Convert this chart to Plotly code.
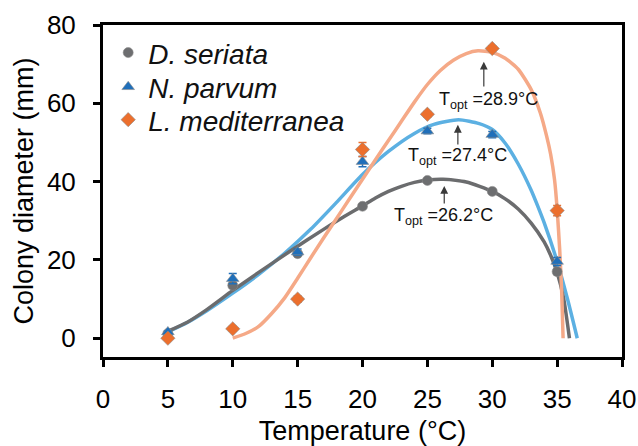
import plotly.graph_objects as go

# Measured colony diameters (mean ± error) at each incubation temperature
temps = [5, 10, 15, 20, 25, 30, 35]

ds_mean = [1.2, 13.5, 21.6, 33.7, 40.3, 37.5, 17.0]
ds_err = [0.4, 0.6, 0.5, 0.6, 0.5, 0.5, 0.7]

np_mean = [1.6, 15.2, 22.0, 45.1, 52.9, 52.0, 19.6]
np_err = [0.3, 1.3, 0.8, 1.3, 0.7, 0.8, 1.0]

lm_mean = [0.0, 2.4, 10.0, 48.2, 57.2, 74.0, 32.6]
lm_err = [0.5, 0.6, 0.8, 1.8, 0.7, 0.7, 1.3]

# Fitted growth curves (temperature, diameter)
ds_fit_t = [5, 6.5, 8, 10, 12, 14.5, 17, 18.5, 20, 21, 22, 23, 24, 25, 26.2, 28, 30, 31, 32, 33,
            34, 34.5, 35, 35.5, 35.95]
ds_fit_y = [1.8, 4.1, 7.3, 12.2, 16.8, 22.4, 27.8, 30.9, 33.8, 35.8, 37.5, 38.8, 39.8, 40.4, 40.6,
            39.9, 37.5, 35.6, 33.0, 29.4, 24.6, 21.2, 16.8, 10.2, 0.0]

np_fit_t = [5, 6.5, 8, 10, 12, 14, 16, 18, 20, 22, 24, 25.5, 27.4, 29, 30, 31, 32, 33, 33.5, 34,
            35, 35.8, 36.55]
np_fit_y = [1.6, 4.0, 7.0, 11.5, 16.3, 21.7, 27.8, 34.7, 41.8, 47.7, 52.3, 54.6, 55.8, 54.8, 53.3,
            49.8, 44.5, 37.8, 33.8, 29.5, 19.6, 10.0, 0.0]

lm_fit_t = [10, 11, 12, 13, 14, 15, 16, 17, 18, 19, 20, 21, 22, 23, 24, 25, 26, 27, 28, 28.9,
            30, 31, 32, 33, 33.7, 34.2, 34.5, 34.8, 35.0, 35.2, 35.35, 35.46]
lm_fit_y = [0.0, 1.2, 3.0, 6.3, 10.3, 15.3, 20.5, 25.6, 30.6, 35.6, 40.6, 45.6, 50.5, 55.4, 60.3,
            64.8, 68.4, 71.0, 72.7, 73.4, 73.0, 71.5, 68.7, 63.5, 57.6, 51.5, 47.0, 40.5, 33.0,
            22.5, 12.0, 0.0]

# Optimum-temperature callouts: label text, label position, arrow x, arrow tail/head y
topt_labels = ["T<sub>opt</sub> =28.9°C", "T<sub>opt</sub> =27.4°C", "T<sub>opt</sub> =26.2°C"]
topt_label_x = [29.68, 27.35, 26.26]
topt_label_y = [60.8, 46.3, 31.2]
topt_arrow_x = [29.35, 27.35, 26.3]
topt_arrow_tail = [63.9, 49.1, 34.0]
topt_arrow_head = [70.6, 54.5, 38.9]

names = ["<i>D. seriata</i>", "<i>N. parvum</i>", "<i>L. mediterranea</i>"]
marker_colors = ["#6d6e70", "#1f6fba", "#ec6f2d"]
curve_colors = ["#6b6c6e", "#5cb0e2", "#f5a987"]
symbols = ["circle", "triangle-up", "diamond"]
sizes = [10, 11, 11]
legend_ids = ["legend", "legend2", "legend3"]
legend_rows = [0.916, 0.813, 0.714]

FONT = "Liberation Sans, Arial, sans-serif"

fig = go.Figure()

fits = [(ds_fit_t, ds_fit_y), (np_fit_t, np_fit_y), (lm_fit_t, lm_fit_y)]
for idx in [1, 0, 2]:
    ft, fy = fits[idx]
    fig.add_trace(go.Scatter(
        x=ft, y=fy, mode="lines",
        line=dict(color=curve_colors[idx], width=3.5, shape="spline", smoothing=0.6),
        showlegend=False, hoverinfo="skip",
    ))

series = [(ds_mean, ds_err), (np_mean, np_err), (lm_mean, lm_err)]
for i, (m, e) in enumerate(series):
    fig.add_trace(go.Scatter(
        x=temps, y=m, mode="markers", name=names[i],
        legend=legend_ids[i],
        marker=dict(symbol=symbols[i], size=sizes[i], color=marker_colors[i],
                    line=dict(color="#8a8a8a", width=0.6)),
        error_y=dict(type="data", array=e, visible=True,
                     color=marker_colors[i], thickness=1.5, width=4),
    ))

for txt, lx, ly in zip(topt_labels, topt_label_x, topt_label_y):
    fig.add_annotation(x=lx, y=ly, text=txt, showarrow=False,
                       font=dict(family=FONT, size=18, color="#111111"),
                       xanchor="center", yanchor="middle")

for ax_, tail, head in zip(topt_arrow_x, topt_arrow_tail, topt_arrow_head):
    fig.add_annotation(x=ax_, y=head, ax=ax_, ay=tail, axref="x", ayref="y",
                       text="", showarrow=True, arrowhead=2, arrowsize=1.3,
                       arrowwidth=1.2, arrowcolor="#3a3a3a")

axis_common = dict(
    showline=True, linecolor="black", linewidth=3, mirror=True,
    ticks="outside", ticklen=7, tickwidth=3, tickcolor="black",
    showgrid=False, zeroline=False, automargin=False,
    tickfont=dict(family=FONT, size=26, color="black"),
)

fig.update_xaxes(range=[0, 40], tickmode="array", tickvals=list(range(0, 45, 5)),
                 ticklabelstandoff=10,
                 title=dict(text="Temperature (°C)", font=dict(family=FONT, size=27, color="black"),
                            standoff=8),
                 **axis_common)
fig.update_yaxes(range=[-4.8, 80], tickmode="array", tickvals=[0, 20, 40, 60, 80],
                 ticklabelstandoff=12,
                 title=dict(text="Colony diameter (mm)", font=dict(family=FONT, size=27, color="black"),
                            standoff=6),
                 **axis_common)

legend_style = dict(x=0.01, xanchor="left", yanchor="middle",
                    font=dict(family=FONT, size=28, color="#111111"),
                    bgcolor="rgba(0,0,0,0)")

fig.update_layout(
    width=638, height=446,
    margin=dict(l=103, r=16, t=25, b=89),
    plot_bgcolor="white", paper_bgcolor="white",
    font=dict(family=FONT, color="black"),
    legend=dict(y=legend_rows[0], **legend_style),
    legend2=dict(y=legend_rows[1], **legend_style),
    legend3=dict(y=legend_rows[2], **legend_style),
)

fig.write_html("out.html")
